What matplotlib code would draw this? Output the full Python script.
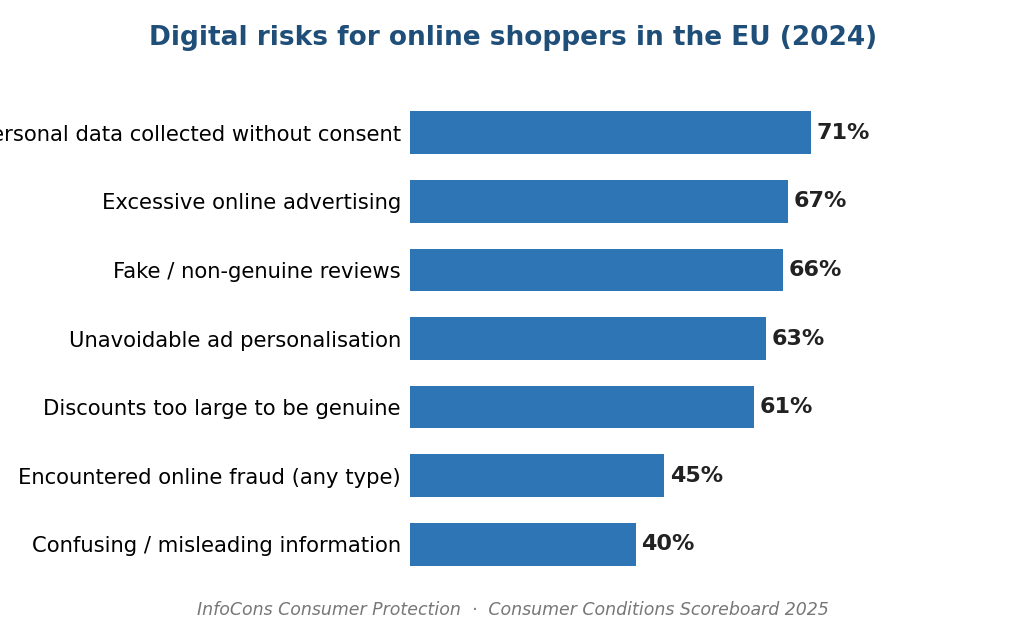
import numpy as np
import matplotlib
matplotlib.use("Agg")
from matplotlib import pyplot as plt

categories = [
    "Personal data collected without consent",
    "Excessive online advertising",
    "Fake / non-genuine reviews",
    "Unavoidable ad personalisation",
    "Discounts too large to be genuine",
    "Encountered online fraud (any type)",
    "Confusing / misleading information",
]
values = [71, 67, 66, 63, 61, 45, 40]

bar_color = "#2e75b6"
title_color = "#1f4e79"

def main():
    fig = plt.figure(figsize=(10.26, 6.27), dpi=100)
    ax = fig.add_axes([0.3996, 0.0616, 0.586, 0.797])

    y = np.arange(len(categories))
    ax.barh(y, values, height=0.62, color=bar_color)
    ax.invert_yaxis()
    ax.set_xlim(0, max(values) * 1.5)

    for yi, v in zip(y, values):
        ax.text(v + 1.0, yi, f"{v}%", va="center", ha="left",
                fontsize=16, fontweight="bold", color="#222222")

    ax.set_yticks(y)
    ax.set_yticklabels(categories, fontsize=15.2)
    ax.tick_params(axis="y", length=0, pad=6.5)
    ax.set_xticks([])
    for s in ax.spines.values():
        s.set_visible(False)

    fig.text(0.5, 0.939, "Digital risks for online shoppers in the EU (2024)",
             ha="center", va="center", fontsize=19, fontweight="bold",
             color=title_color)
    fig.text(0.5, 0.027,
             "InfoCons Consumer Protection  \u00b7  Consumer Conditions Scoreboard 2025",
             ha="center", va="center", fontsize=12.5, style="italic",
             color="#777777")

    fig.savefig("out.png", dpi=100)

if __name__ == '__main__':
    main()
